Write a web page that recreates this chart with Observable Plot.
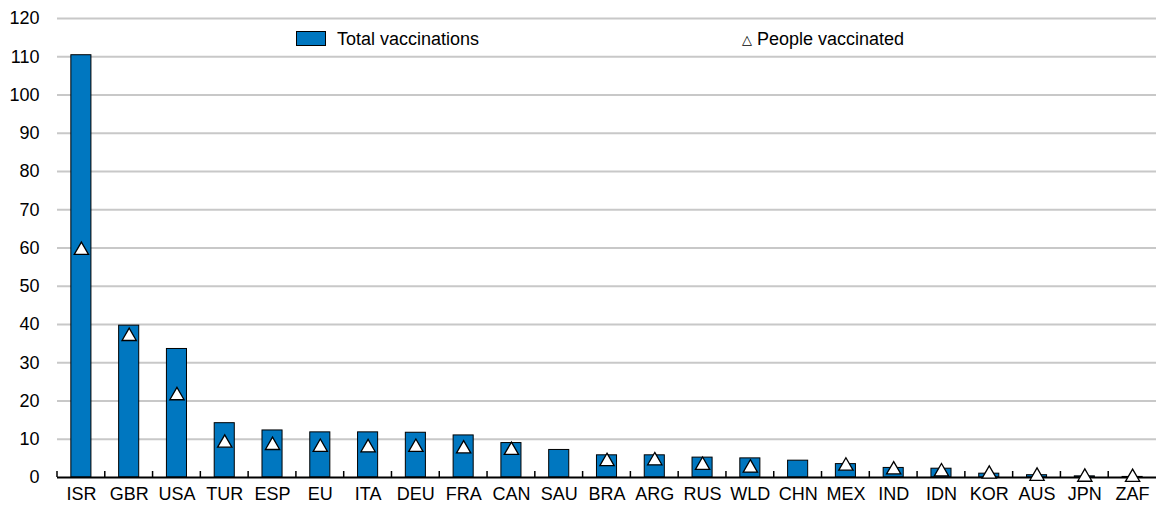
<!DOCTYPE html>
<html>
<head>
<meta charset="utf-8">
<script src="https://cdn.jsdelivr.net/npm/d3@7"></script>
<script src="https://cdn.jsdelivr.net/npm/@observablehq/plot@0.6"></script>
<style>
  html, body { margin: 0; padding: 0; background: #fff; }
  #wrap { position: relative; width: 1156px; height: 507px; font-family: "Liberation Sans", Arial, sans-serif; }
  .leg { position: absolute; font-size: 18px; color: #000; line-height: 1; white-space: nowrap; }
  .sw { position: absolute; box-sizing: border-box; background: #0077c0; border: 1.5px solid #000; }
</style>
</head>
<body>
<div id="wrap"></div>
<script>
const countries = ["ISR","GBR","USA","TUR","ESP","EU","ITA","DEU","FRA","CAN","SAU","BRA","ARG","RUS","WLD","CHN","MEX","IND","IDN","KOR","AUS","JPN","ZAF"];
const totalVaccinations = [110.4, 39.7, 33.6, 14.2, 12.3, 11.8, 11.8, 11.7, 11.0, 9.0, 7.2, 5.8, 5.8, 5.2, 5.0, 4.4, 3.5, 2.5, 2.3, 1.0, 0.6, 0.3, 0.15];
const peopleVaccinated = [59.4, 36.9, 21.4, 9.0, 8.4, 7.9, 7.8, 7.9, 7.5, 7.1, null, 4.2, 4.4, 3.2, 2.5, null, 3.0, 2.0, 1.5, 0.9, 0.35, 0.1, 0.05];
const yTicks = [0, 10, 20, 30, 40, 50, 60, 70, 80, 90, 100, 110, 120];
const legendLabels = ["Total vaccinations", "People vaccinated"];

const rows = countries.map((c, i) => ({country: c, total: totalVaccinations[i], people: peopleVaccinated[i]}));

const W = 1156, H = 507, mL = 57, mR = 0, mT = 18, mB = 30;

const chart = Plot.plot({
  width: W,
  height: H,
  marginLeft: mL,
  marginRight: mR,
  marginTop: mT,
  marginBottom: mB,
  style: {fontFamily: "'Liberation Sans', Arial, sans-serif", fontSize: "18px", color: "#000", background: "#fff"},
  x: {domain: countries, paddingInner: 0.58, paddingOuter: 0.29, round: false, label: null},
  y: {domain: [0, 120], label: null},
  marks: [
    Plot.gridY(yTicks.filter(d => d > 0), {stroke: "#c8c8c8", strokeOpacity: 1, strokeWidth: 2}),
    Plot.axisY(yTicks, {tickSize: 0, tickPadding: 18, fontSize: 18, label: null}),
    Plot.axisX({tickSize: 0, tickPadding: 10, fontSize: 18, label: null}),
    Plot.barY(rows, {x: "country", y: "total", fill: "#0077c0", stroke: "#000", strokeWidth: 1}),
    Plot.ruleY([0], {stroke: "#000", strokeWidth: 2}),
    Plot.dot(rows.filter(d => d.people != null), {x: "country", y: "people", symbol: "triangle", r: 5.3, fill: "#fff", stroke: "#000", strokeWidth: 1.3})
  ]
});

const wrap = document.getElementById("wrap");
wrap.appendChild(chart);

// upward boundary ticks along the category axis, placed with the chart's own scales
const xs = chart.scale("x"), ys = chart.scale("y");
const y0 = ys.apply(0);
const gap = (xs.step - xs.bandwidth) / 2;
d3.select(chart).append("g").attr("stroke", "#000").attr("stroke-width", 1.5)
  .selectAll("line").data(countries).join("line")
  .attr("x1", d => xs.apply(d) - gap)
  .attr("x2", d => xs.apply(d) - gap)
  .attr("y1", y0).attr("y2", y0 - 6);

const sw = document.createElement("div");
sw.className = "sw";
Object.assign(sw.style, {left: "296px", top: "31px", width: "30px", height: "15px"});
wrap.appendChild(sw);

const l1 = document.createElement("div");
l1.className = "leg";
l1.textContent = legendLabels[0];
Object.assign(l1.style, {left: "337px", top: "30px"});
wrap.appendChild(l1);

const l2 = document.createElement("div");
l2.className = "leg";
l2.innerHTML = '<span style="font-size:13px;font-family:\'DejaVu Sans\',sans-serif;position:relative;top:-1px">\u25B3</span> ' + legendLabels[1];
Object.assign(l2.style, {left: "742px", top: "30px"});
wrap.appendChild(l2);
</script>
</body>
</html>
